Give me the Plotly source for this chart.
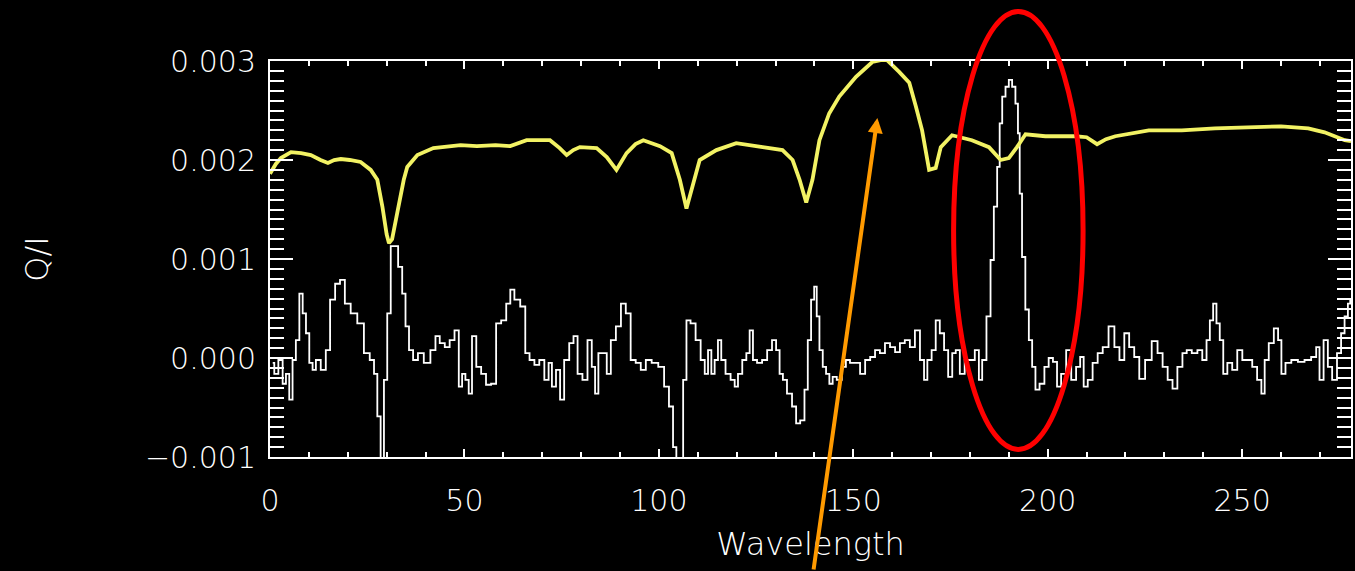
import numpy as np
import plotly.graph_objects as go

# ---- data (Q/I in units of 1e-3, wavelength in pixel index) ----
yellow_wavelength = [0.0, 1.5, 2.8, 5.4, 8.0, 10.5, 13.0, 14.9, 16.5, 18.2, 20.5, 23.3, 25.9, 27.6,
                     28.9, 30.0, 30.6, 31.4, 32.7, 34.4, 35.3, 37.9, 42.0, 46.0, 49.0, 53.2, 58.0,
                     61.8, 66.0, 72.0, 74.5, 76.3, 78.0, 79.7, 84.0, 86.6, 89.1, 91.7, 94.0, 96.0,
                     100.3, 103.3, 105.4, 107.1, 109.2, 110.5, 114.8, 119.9, 126.7, 131.8, 134.4,
                     136.2, 137.9, 139.5, 141.3, 143.8, 146.4, 150.7, 154.9, 158.4, 161.8, 164.4,
                     166.1, 167.7, 169.5, 171.2, 172.5, 175.4, 180.5, 184.9, 187.9, 190.0, 192.1,
                     194.3, 199.4, 207.1, 210.0, 212.7, 215.0, 217.4, 226.0, 234.5, 243.0, 251.5,
                     260.0, 267.0, 271.2, 276.4, 278.0]
yellow_q_milli = [1.86, 1.96, 2.02, 2.08, 2.07, 2.05, 2.00, 1.97, 2.00, 2.01, 2.00, 1.98, 1.90, 1.80,
                  1.53, 1.25, 1.16, 1.20, 1.46, 1.80, 1.93, 2.05, 2.12, 2.14, 2.15, 2.14, 2.15,
                  2.14, 2.20, 2.20, 2.12, 2.05, 2.10, 2.13, 2.12, 2.03, 1.90, 2.07, 2.16, 2.20,
                  2.14, 2.07, 1.80, 1.51, 1.80, 2.00, 2.10, 2.17, 2.13, 2.10, 2.00,
                  1.80, 1.57, 1.80, 2.20, 2.47, 2.64, 2.84, 2.99, 3.02, 2.89, 2.78,
                  2.54, 2.30, 1.90, 1.92, 2.13, 2.25, 2.20, 2.13, 2.00, 2.02, 2.13,
                  2.26, 2.24, 2.24, 2.23, 2.16, 2.21, 2.24, 2.30, 2.30, 2.32, 2.33,
                  2.34, 2.32, 2.28, 2.20, 2.19]

white_wavelength = [0.7, 1.5, 2.8, 3.7, 4.5, 5.4, 6.2, 7.1, 8.0, 8.8, 9.7, 10.5, 11.4, 12.2, 13.9,
                    14.8, 16.1, 17.4, 18.6, 19.9, 21.6, 23.3, 25.0, 26.3, 27.2, 28.0, 28.9, 29.7,
                    30.6, 31.5, 32.3, 33.6, 34.4, 35.3, 36.2, 37.4, 38.7, 40.4, 42.1, 43.0, 44.3,
                    45.6, 46.8, 48.1, 49.0, 49.8, 50.7, 51.5, 52.4, 53.7, 54.9, 56.2, 57.5, 58.8,
                    60.1, 61.4, 62.2, 63.5, 65.2, 66.1, 67.4, 68.6, 69.9, 71.2, 72.1, 72.9, 74.2,
                    75.0, 76.3, 77.6, 78.5, 79.7, 81.0, 82.3, 83.2, 84.0, 84.9, 86.2, 87.0, 88.3,
                    89.6, 90.9, 92.1, 93.4, 94.7, 96.0, 97.3, 99.0,
                    100.7, 102.0, 103.2, 104.1, 104.9, 105.8, 106.7, 107.5, 108.8, 110.1, 111.4,
                    112.2, 113.1, 113.9, 114.8, 115.6, 116.5, 117.8, 119.1, 119.9, 120.8, 122.1,
                    122.9, 123.8, 124.6, 125.9, 127.2, 128.5, 129.7, 130.6, 131.5, 132.3, 133.6,
                    134.9, 135.7, 137.0, 137.9, 138.7, 139.6, 140.3, 140.9, 141.7, 142.6, 143.4,
                    144.3, 145.1, 146.4, 147.7, 148.5, 149.8, 151.1, 152.4, 153.7, 155.0, 156.2,
                    157.5, 158.8, 160.1, 161.4, 162.6, 163.9, 165.2, 166.5, 167.8, 168.6, 169.5,
                    170.8, 171.6, 172.9, 173.8, 175.0, 175.9, 176.8, 178.0, 179.3, 180.6, 181.9,
                    182.7, 183.6,
                    184.9, 185.7, 186.6, 187.4, 187.9, 188.7, 189.6, 190.4, 191.3, 192.1, 192.6,
                    193.0, 193.8, 194.7, 195.6, 196.4, 197.3, 198.5, 199.8, 200.7, 202.0, 202.8,
                    204.1, 205.4, 206.7, 207.9, 208.8, 209.7, 210.9, 212.2, 213.5, 214.8, 216.5,
                    217.8, 219.1, 220.3, 221.6, 222.9, 224.2, 225.9, 227.6, 228.9, 230.2, 231.5,
                    232.7, 234.0, 235.3, 236.2, 237.9, 239.1, 240.4, 241.3, 242.1, 243.0, 243.8,
                    244.7, 245.6, 246.8, 248.1, 249.4, 250.7, 252.0, 253.2, 254.5, 255.4, 256.2,
                    257.5, 258.8, 259.7, 260.5, 261.8, 263.5, 265.2, 266.9, 268.6, 269.5, 270.3,
                    271.6, 272.5, 273.8, 275.0, 275.9, 276.8, 277.6, 278.0]
white_q_milli = [-0.05, -0.16, -0.02, -0.26, -0.16, -0.42, -0.02, 0.18, 0.65, 0.45, 0.25, -0.05, -0.12, -0.02, -0.12,
                 0.08, 0.59, 0.75, 0.79, 0.55, 0.45, 0.35, 0.05, -0.02, -0.16, -0.59, -1.30, -0.22,
                 0.45, 1.13, 1.13, 0.92, 0.65, 0.32, 0.08, -0.02, 0.05, -0.05, 0.08, 0.22, 0.15,
                 0.11, 0.18, 0.28, -0.29, -0.16, -0.22, -0.36, 0.22, -0.09, -0.16, -0.27, -0.26, 0.35,
                 0.38, 0.55, 0.69, 0.59, 0.52, 0.05, -0.02, -0.07, -0.02, -0.22, -0.05, -0.29, -0.12,
                 -0.42, -0.02, 0.15, 0.22, -0.16, -0.22, 0.18, -0.09, -0.36, 0.05, 0.05, -0.16, 0.18,
                 0.32, 0.55, 0.45, -0.02, -0.05, -0.12, -0.02, -0.05,
                 -0.09, -0.29, -0.49, -0.90, -1.30, -1.30, -0.22, 0.38, 0.35, 0.18, -0.02,
                 -0.16, 0.08, -0.16, -0.02, 0.18, -0.02, -0.16, -0.22, -0.29, -0.16, -0.02,
                 0.05, 0.28, -0.02, -0.05, -0.02, 0.08, 0.18, 0.08, -0.16, -0.22, -0.36,
                 -0.49, -0.66, -0.63, -0.32, 0.18, 0.59, 0.72, 0.42, 0.08, -0.09, -0.16,
                 -0.26, -0.19, -0.22, -0.09, -0.02, -0.05, -0.05, -0.16, -0.02, 0.01, 0.08,
                 0.05, 0.15, 0.11, 0.06, 0.15, 0.18, 0.11, 0.28, -0.02, -0.22, -0.02,
                 0.08, 0.38, 0.25, 0.08, -0.19, 0.05, 0.08, -0.16, -0.02, -0.02, 0.08,
                 -0.22, -0.02,
                 0.42, 0.99, 1.53, 1.93, 2.37, 2.64, 2.74, 2.81, 2.74, 2.57, 2.27,
                 1.66, 1.02, 0.49, 0.18, -0.09, -0.32, -0.26, -0.09, 0.00, -0.04, -0.29,
                 -0.16, 0.08, -0.22, -0.09, 0.01, -0.29, -0.22, -0.05, 0.05, 0.11, 0.32,
                 0.11, -0.02, 0.25, 0.11, 0.01, -0.21, -0.02, 0.17, 0.05, -0.09, -0.22,
                 -0.31, -0.09, 0.05, 0.08, 0.05, 0.08, -0.02, 0.18, 0.38, 0.55, 0.35,
                 0.18, -0.16, -0.05, -0.12, 0.08, -0.02, -0.02, -0.09, -0.22, -0.36, -0.02,
                 0.15, 0.30, 0.18, -0.16, -0.05, -0.02, -0.04, -0.02, 0.01, 0.11, -0.22,
                 0.18, -0.09, -0.22, 0.05, 0.25, 0.42, 0.55, 0.59]

x_range = [0, 278]
y_range = [-0.001, 0.003]
x_tick_step = 50
y_tick_step = 0.001
highlight_span = [175.8, 209.1]      # wavelength span of the circled line
arrow_target = (156.2, 2.424)        # wavelength, Q/I (1e-3) pointed at by the arrow

FONT = "DejaVu Sans"
scale = 1e-3

fig = go.Figure()
fig.add_trace(go.Scatter(
    x=white_wavelength, y=np.array(white_q_milli) * scale, mode="lines",
    line=dict(color="white", width=1.8, shape="hvh"), hoverinfo="skip"))
fig.add_trace(go.Scatter(
    x=yellow_wavelength, y=np.array(yellow_q_milli) * scale, mode="lines",
    line=dict(color="#f2f264", width=3.8), hoverinfo="skip"))

axis_common = dict(
    showline=True, linecolor="white", linewidth=2, mirror="allticks",
    ticks="inside", tickcolor="white", tickwidth=2,
    showgrid=False, zeroline=False,
    tickfont=dict(family=FONT, size=30, color="white", weight=200),
)

fig.update_xaxes(
    range=x_range, tick0=0, dtick=x_tick_step, ticklen=8,
    minor=dict(dtick=10, tick0=0, ticks="inside", ticklen=5, tickwidth=2, tickcolor="white", showgrid=False),
    ticklabelstandoff=16,
    title=dict(text="Wavelength", font=dict(family=FONT, size=32, color="white", weight=200), standoff=16),
    **axis_common)
fig.update_yaxes(
    range=y_range, tick0=0, dtick=y_tick_step, tickformat=".3f", ticklen=23,
    minor=dict(dtick=0.0001, tick0=0, ticks="inside", ticklen=14, tickwidth=2, tickcolor="white", showgrid=False),
    ticklabelstandoff=6,
    title=dict(text="Q/I", font=dict(family=FONT, size=32, color="white", weight=200), standoff=87),
    **axis_common)

# red ellipse around the emission feature
fig.add_shape(type="circle", xref="x", yref="paper",
              x0=highlight_span[0], x1=highlight_span[1], y0=0.019, y1=1.125,
              line=dict(color="#ff0000", width=5), layer="above")

# orange arrow pointing at the yellow bump
fig.add_annotation(x=arrow_target[0], y=arrow_target[1] * scale, xref="x", yref="y",
                   ax=-64, ay=453, text="", showarrow=True,
                   arrowhead=2, arrowsize=0.75, arrowwidth=4, arrowcolor="#ff9a00")

fig.update_layout(
    width=1355, height=571,
    paper_bgcolor="black", plot_bgcolor="black",
    margin=dict(l=270, r=4, t=61, b=114, autoexpand=False),
    showlegend=False,
    font=dict(family=FONT, color="white"),
)

fig.write_html(
    "out.html",
    config={"displayModeBar": False},
    post_script="document.body.style.margin='0';document.body.style.background='black';"
                "document.body.style.overflow='hidden';",
)
